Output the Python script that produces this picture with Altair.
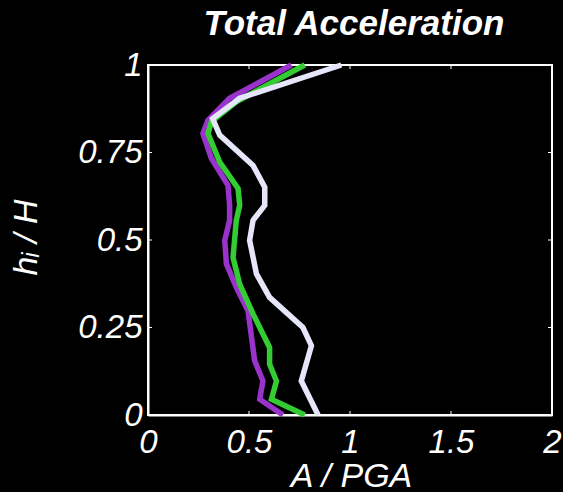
import altair as alt
import pandas as pd

# Height ratio h_i / H and normalised acceleration A / PGA for each series
white_h = [1.0, 0.905, 0.847, 0.80, 0.713, 0.651, 0.599, 0.556, 0.499, 0.403, 0.336, 0.25, 0.198, 0.097, 0.0]
white_a = [0.957, 0.454, 0.32, 0.355, 0.52, 0.578, 0.578, 0.52, 0.503, 0.537, 0.602, 0.767, 0.809, 0.759, 0.842]

green_h = [1.0, 0.895, 0.838, 0.804, 0.723, 0.647, 0.599, 0.556, 0.45, 0.374, 0.289, 0.193, 0.145, 0.097, 0.045, 0.0]
green_a = [0.776, 0.437, 0.314, 0.297, 0.355, 0.446, 0.454, 0.437, 0.421, 0.454, 0.52, 0.602, 0.602, 0.636, 0.611, 0.776]

purple_h = [1.0, 0.905, 0.842, 0.804, 0.733, 0.656, 0.599, 0.556, 0.499, 0.432, 0.365, 0.298, 0.155, 0.097, 0.045, 0.0]
purple_a = [0.71, 0.404, 0.297, 0.272, 0.314, 0.396, 0.404, 0.404, 0.38, 0.388, 0.437, 0.495, 0.528, 0.569, 0.553, 0.668]

x_ticks = [0, 0.5, 1, 1.5, 2]
y_ticks = [0, 0.25, 0.5, 0.75, 1]

series_names = ["purple", "green", "white"]
series_colors = ["#9933CC", "#33CC33", "#E6E6FA"]

chart_title = "Total Acceleration"

rows = []
for name, hs, as_ in [("purple", purple_h, purple_a), ("green", green_h, green_a), ("white", white_h, white_a)]:
    for i, (h, a) in enumerate(zip(hs, as_)):
        rows.append({"series": name, "h": h, "a": a, "idx": i})
df = pd.DataFrame(rows)

W, H = 404, 350
FONT = "Liberation Sans"

xscale = alt.Scale(domain=[0, 2], nice=False, zero=False)
yscale = alt.Scale(domain=[0, 1], nice=False, zero=False)

label_expr = "datum.value == 0 ? '0' : datum.value == 1 ? '1' : format(datum.value, '.2~f')"

lines = alt.Chart(df).mark_line(strokeWidth=5.5, strokeJoin="miter", strokeCap="butt").encode(
    x=alt.X("a:Q", scale=xscale,
            axis=alt.Axis(values=x_ticks, title="A / PGA", labelExpr="format(datum.value, '~g')",
                          ticks=False, tickSize=0, labelPadding=11, labelFlush=False,
                          titleBaseline="alphabetic", titleY=71, titleX=W / 2 + 1)),
    y=alt.Y("h:Q", scale=yscale,
            axis=alt.Axis(values=y_ticks, title="hᵢ / H", labelExpr=label_expr,
                          ticks=False, tickSize=0, labelPadding=6, labelFlush=False,
                          titleAngle=270, titleBaseline="middle", titleAlign="center",
                          titleX=-122, titleY=H / 2 - 3)),
    color=alt.Color("series:N", scale=alt.Scale(domain=series_names, range=series_colors), legend=None),
    order=alt.Order("idx:Q"),
    detail="series:N",
)

xt = pd.DataFrame({"v": x_ticks})
yt = pd.DataFrame({"v": y_ticks})

ticks_bottom = alt.Chart(xt).mark_rule(color="white", strokeWidth=1).encode(
    x=alt.X("v:Q", scale=xscale), y=alt.value(H), y2=alt.value(H - 4))
ticks_top = alt.Chart(xt).mark_rule(color="white", strokeWidth=1).encode(
    x=alt.X("v:Q", scale=xscale), y=alt.value(0), y2=alt.value(4))
ticks_left = alt.Chart(yt).mark_rule(color="white", strokeWidth=1).encode(
    y=alt.Y("v:Q", scale=yscale), x=alt.value(0), x2=alt.value(4))
ticks_right = alt.Chart(yt).mark_rule(color="white", strokeWidth=1).encode(
    y=alt.Y("v:Q", scale=yscale), x=alt.value(W), x2=alt.value(W - 4))

title_text = alt.Chart(pd.DataFrame({"t": [chart_title]})).mark_text(
    font=FONT, fontSize=35, fontWeight="bold", fontStyle="italic", color="white",
    align="center", baseline="alphabetic",
).encode(text="t:N", x=alt.value(W / 2 + 4), y=alt.value(-30))

chart = alt.layer(ticks_bottom, ticks_top, ticks_left, ticks_right, lines, title_text).properties(
    width=W, height=H,
    background="black",
    autosize=alt.AutoSizeParams(type="none"),
    padding={"left": 148, "top": 65, "right": 11, "bottom": 77},
).configure_view(
    stroke="white", strokeWidth=2, fill="black"
).configure_axis(
    domainColor="white", domainWidth=2, labelColor="white", titleColor="white",
    labelFont=FONT, titleFont=FONT, labelFontSize=33, titleFontSize=34,
    labelFontStyle="italic", titleFontStyle="italic", titleFontWeight="normal",
    grid=False,
)

chart.save("out.html", embed_options={"renderer": "svg", "actions": False})
